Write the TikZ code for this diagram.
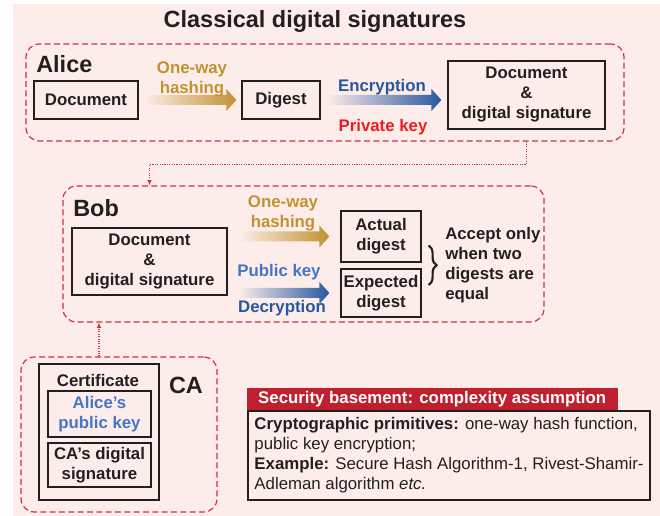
\documentclass[tikz,border=0pt]{standalone}
\usepackage{fontspec}
\setmainfont{Liberation Sans}
\usetikzlibrary{calc,arrows.meta,decorations.pathreplacing}

\definecolor{bgpink}{RGB}{253,237,234}
\definecolor{dashred}{RGB}{205,50,62}
\definecolor{hashgold}{RGB}{192,146,50}
\definecolor{encblue}{RGB}{40,88,158}
\definecolor{keyblue}{RGB}{68,118,196}
\definecolor{keyred}{RGB}{236,28,36}
\definecolor{headred}{RGB}{190,32,46}
\definecolor{inkblack}{RGB}{35,31,32}

\newcommand{\bodyfont}{\fontsize{12.6}{15}\selectfont\bfseries}
\newcommand{\sigtitlefont}{\fontsize{17.6}{20}\selectfont\bfseries}
% shaded fat arrow: from, to, colour, gap
\newcommand{\fatarrow}[4]{%
  \shade[left color=bgpink, right color=#3]
    ($(#1)+(#4,-5)$) -- ($(#2)+(-#4-10,-5)$) -- ($(#2)+(-#4-10,-11)$)
    -- ($(#2)+(-#4,0)$) -- ($(#2)+(-#4-10,11)$) -- ($(#2)+(-#4-10,5)$)
    -- ($(#1)+(#4,5)$) -- cycle;}

\begin{document}
\begin{tikzpicture}[x=0.75pt, y=-0.75pt,
    box/.style={draw=inkblack, line width=0.9pt, text=inkblack, font=\bodyfont, align=center, inner sep=0pt},
    region/.style={draw=dashred, dash pattern=on 4.5pt off 2.5pt, line width=0.9pt, rounded corners=10pt, inner sep=0pt},
    link/.style={dashred, densely dotted, line width=0.8pt, -{Latex[length=4pt,width=3.5pt]}},
    lbl/.style={font=\bodyfont, align=center, inner sep=0pt},
    big/.style={font=\sigtitlefont, text=inkblack, inner sep=0pt}]
  \useasboundingbox (0,0) rectangle (660,516);
  \fill[bgpink] (13,4) rectangle (660,516);

  \node[big] (title) at (315,21) {Classical digital signatures};

  % Alice
  \node[region, minimum width=448.5pt, minimum height=72.75pt] (alice) at (325,92.5) {};
  \node[big, anchor=west] (alicename) at (36,64) {Alice};
  \node[box, minimum width=78pt, minimum height=28.5pt] (doc) at (86,100) {Document};
  \node[box, minimum width=58.5pt, minimum height=28.5pt] (digest) at (281,100) {Digest};
  \node[box, minimum width=117.75pt, minimum height=51pt] (asig) at (526.5,95) {Document\\\&\\digital signature};
  \fatarrow{doc.east}{digest.west}{hashgold}{5}
  \fatarrow{digest.east}{asig.west |- digest.east}{encblue}{6}
  \node[lbl, text=hashgold] (hash1) at (192,79.5) {One-way\\hashing};
  \node[lbl, text=encblue] (enc) at (382,87) {Encryption};
  \node[lbl, text=keyred] (priv) at (383,127) {Private key};

  % Bob
  \node[region, minimum width=360.75pt, minimum height=102pt] (bob) at (303.5,254) {};
  \node[big, anchor=west] (bobname) at (73,208) {Bob};
  \node[box, minimum width=116.25pt, minimum height=50.25pt] (bdoc) at (149.5,261.5) {Document\\\&\\digital signature};
  \node[box, minimum width=60pt, minimum height=38.25pt] (actual) at (381,236.5) {Actual\\digest};
  \node[box, minimum width=60pt, minimum height=36pt] (expected) at (381,293) {Expected\\digest};
  \fatarrow{bdoc.east |- actual.west}{actual.west}{hashgold}{11}
  \fatarrow{bdoc.east |- expected.west}{expected.west}{encblue}{11}
  \node[lbl, text=hashgold] (hash2) at (283,213.5) {One-way\\hashing};
  \node[lbl, text=keyblue] (pub) at (279,272) {Public key};
  \node[lbl, text=encblue] (dec) at (282,308) {Decryption};
  \draw[inkblack, line width=1.6pt, decorate, decoration={brace, amplitude=6pt}]
    ($(actual.east)+(7,9)$) -- ($(expected.east)+(7,-8)$);
  \node[lbl, text=inkblack, anchor=west, align=left] (accept) at (445,265) {Accept only\\when two\\digests are\\equal};

  % CA
  \node[region, minimum width=147pt, minimum height=116.25pt] (ca) at (119,434.5) {};
  \node[box, minimum width=90pt, minimum height=102pt] (cert) at (99,432) {};
  \node[lbl, text=inkblack] (certname) at (98,380) {Certificate};
  \node[box, text=keyblue, minimum width=77.25pt, minimum height=34.5pt] (akey) at (99.5,414) {Alice’s\\public key};
  \node[box, minimum width=77.25pt, minimum height=33pt] (casig) at (99.5,465) {CA’s digital\\signature};
  \node[big] (caname) at (186,385) {CA};

  % connectors
  \draw[link] (alice.south -| asig.south) -- ++(0,23) -| (bob.north -| bdoc.north);
  \draw[link] (ca.north -| cert.north) -- (bob.south -| cert.north);

  % security basement
  \node[draw=inkblack, line width=0.9pt, fill=bgpink, text=inkblack, minimum width=301.5pt, minimum height=66.75pt,
        align=left, inner sep=0pt, font=\fontsize{12.6}{15}\selectfont] (info) at (449,455.5)
    {\textbf{Cryptographic primitives:} one-way hash function,\\
     public key encryption;\\
     \textbf{Example:} Secure Hash Algorithm-1, Rivest-Shamir-\\
     Adleman algorithm \textit{etc.}};
  \node[fill=headred, text=white, font=\bodyfont, anchor=south west, minimum width=278.25pt, minimum height=16.5pt,
        inner sep=0pt] (head) at ($(info.north west)+(-1,0)$) {Security basement: complexity assumption};
\end{tikzpicture}
\end{document}
